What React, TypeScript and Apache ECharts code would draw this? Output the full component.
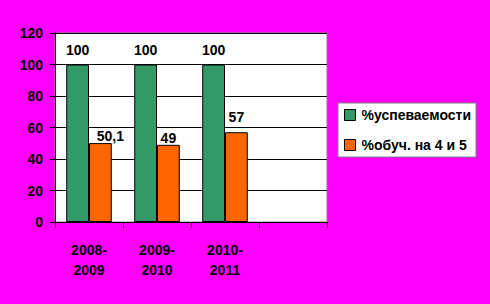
import React, { useEffect, useRef } from "react";
import * as echarts from "echarts";

const categories = ["2008-\n2009", "2009-\n2010", "2010-\n2011", ""];
const successRate = [100, 100, 100, null];
const goodMarks = [50.1, 49, 57, null];
const seriesNames = ["%успеваемости", "%обуч. на 4 и 5"];
const yTicks = { min: 0, max: 120, interval: 20 };

const FONT = "'Liberation Sans', Arial, sans-serif";

export default function App() {
  const ref = useRef<HTMLDivElement>(null);
  useEffect(() => {
    document.body.style.margin = "0";
    const chart = echarts.init(ref.current!, null, { renderer: "svg" });
    const shadowText = {
      color: "#000",
      fontFamily: FONT,
      fontWeight: "bold" as const,
      fontSize: 14,
      textShadowColor: "#fff",
      textShadowOffsetX: -1,
      textShadowOffsetY: -1,
      textShadowBlur: 0,
    };
    const barLabel = {
      show: true,
      position: "top" as const,
      distance: 8,
      color: "#000",
      fontFamily: FONT,
      fontSize: 14,
      fontWeight: "bold" as const,
      formatter: (p: any) => String(p.value).replace(".", ","),
    };
    chart.setOption({
      animation: false,
      backgroundColor: "#FF00FF",
      textStyle: { fontFamily: FONT },
      grid: {
        left: 55,
        top: 33,
        right: 163,
        bottom: 82,
        show: true,
        backgroundColor: "#fff",
        borderColor: "#808080",
        borderWidth: 1,
      },
      legend: {
        orient: "vertical",
        left: 338,
        top: 103,
        padding: [5, 5, 5, 6],
        itemGap: 16,
        itemWidth: 11,
        itemHeight: 11,
        backgroundColor: "#fff",
        borderColor: "#808080",
        borderWidth: 1,
        borderRadius: 0,
        icon: "rect",
        itemStyle: { borderColor: "#000", borderWidth: 1 },
        textStyle: { color: "#000", fontFamily: FONT, fontSize: 14, fontWeight: "bold", padding: [0, 0, 0, 1] },
        data: seriesNames,
      },
      xAxis: {
        type: "category",
        data: categories,
        axisLine: { show: true, lineStyle: { color: "#000", width: 1 } },
        axisTick: { show: true, length: 6, lineStyle: { color: "#000" } },
        axisLabel: { ...shadowText, margin: 18, lineHeight: 20, interval: 0 },
        splitLine: { show: false },
      },
      yAxis: {
        type: "value",
        min: yTicks.min,
        max: yTicks.max,
        interval: yTicks.interval,
        axisLine: { show: true, lineStyle: { color: "#000", width: 1 } },
        axisTick: { show: true, length: 5, lineStyle: { color: "#000" } },
        axisLabel: { ...shadowText, margin: 12 },
        splitLine: { show: true, lineStyle: { color: "#000", width: 1 } },
      },
      series: [
        {
          name: seriesNames[0],
          type: "bar",
          data: successRate,
          barGap: "0%",
          barCategoryGap: "33%",
          itemStyle: { color: "#339966", borderColor: "#000", borderWidth: 1 },
          label: barLabel,
        },
        {
          name: seriesNames[1],
          type: "bar",
          data: goodMarks.map((v, i) =>
            i === 0
              ? { value: v, label: { offset: [10, 0], distance: 0 } }
              : i === 1
              ? { value: v, label: { distance: 0 } }
              : v
          ),
          barGap: "0%",
          barCategoryGap: "33%",
          itemStyle: { color: "#FF6600", borderColor: "#000", borderWidth: 1 },
          label: barLabel,
        },
      ],
    });
    return () => chart.dispose();
  }, []);
  return <div ref={ref} style={{ width: 490, height: 304 }} />;
}
